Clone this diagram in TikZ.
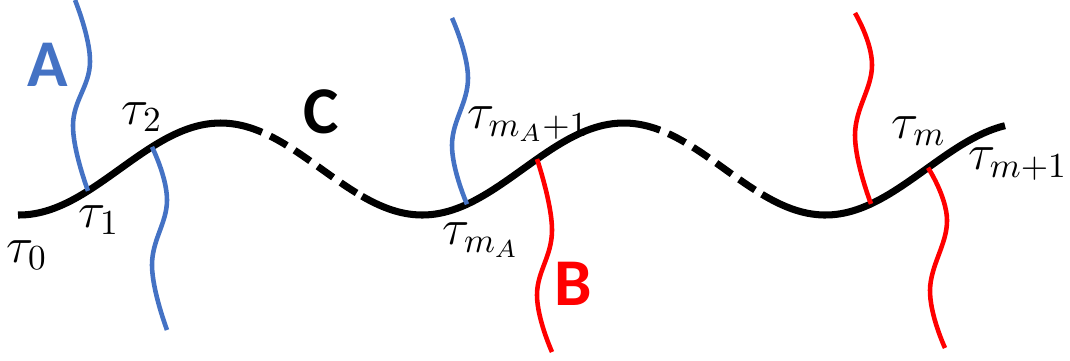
\documentclass[tikz,border=0pt]{standalone}
\usepackage{fontspec}
\setsansfont{Carlito}
\definecolor{wireBlue}{HTML}{4472C4}
\definecolor{wireRed}{HTML}{FF0000}
\usepackage{tikz}
\usetikzlibrary{calc}
\begin{document}
\begin{tikzpicture}[x=0.01cm, y=-0.01cm,
  declare function={wy(\x)=169+46*cos((\x-19)*0.892857);},
  traj/.style={line width=2pt, black},
  gap/.style={traj, dash pattern=on 5.4pt off 2.6pt, dash phase=5.4pt},
  wire/.style={line width=1.3pt, smooth, tension=0.7},
  tlbl/.style={inner sep=0pt, font=\fontsize{14}{16}\selectfont},
  big/.style={inner sep=0pt, font=\fontsize{19}{22}\selectfont\sffamily\bfseries}]
  \useasboundingbox (0,0) rectangle (1070,360);
  % trajectory C
  \draw[traj] plot[domain=18:262, samples=60] (\x,{wy(\x)});
  \draw[gap] plot[domain=262:362, samples=30] (\x,{wy(\x)});
  \draw[traj] plot[domain=362:660, samples=70] (\x,{wy(\x)});
  \draw[gap] plot[domain=660:762, samples=30] (\x,{wy(\x)});
  \draw[traj] plot[domain=762:1005, samples=60] (\x,{wy(\x)});
  \coordinate (t1) at (88,{wy(88)});
  \coordinate (t2) at (152,{wy(152)});
  \coordinate (tmA) at (467,{wy(467)});
  \coordinate (tmA1) at (537,{wy(537)});
  \coordinate (tm) at (871,{wy(871)});
  \coordinate (tm1) at (928,{wy(928)});
  % wires
  \draw[wire, wireBlue] plot coordinates {(75,0) (90,62) (73,125) (t1)};
  \draw[wire, wireBlue] plot coordinates {(t2) (167,200) (152,265) (167,330)};
  \draw[wire, wireBlue] plot coordinates {(452,18) (468,78) (452,145) (tmA)};
  \draw[wire, wireRed] plot coordinates {(tmA1) (552,230) (537,295) (552,352)};
  \draw[wire, wireRed] plot coordinates {(855,13) (872,65) (855,135) (tm)};
  \draw[wire, wireRed] plot coordinates {(tm1) (947,220) (930,290) (945,348)};
  % labels
  \node[big, text=wireBlue] (labA) at (48,65) {A};
  \node[big] (labC) at (321,112) {C};
  \node[big, text=wireRed] (labB) at (573,284) {B};
  \node[tlbl] (tau0) at (27,255) {$\tau_0$};
  \node[tlbl] (tau1) at (99,220) {$\tau_1$};
  \node[tlbl] (tau2) at (142,117) {$\tau_2$};
  \node[tlbl] (taumA1) at (528,124) {$\tau_{m_A+1}$};
  \node[tlbl] (taumA) at (481,240) {$\tau_{m_A}$};
  \node[tlbl] (taum) at (919,131) {$\tau_m$};
  \node[tlbl] (taum1) at (1018,164) {$\tau_{m+1}$};
\end{tikzpicture}
\end{document}
